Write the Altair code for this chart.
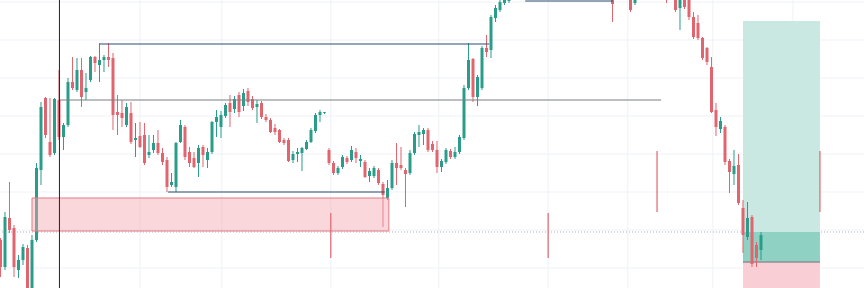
import altair as alt
import pandas as pd

# ---- candle data (price units; index = bar number) ----
idx = list(range(0, 114)) + [136, 140, 141, 148, 150, 151, 152, 153, 154, 155, 156, 157,
                             158, 159, 160, 161, 162, 163, 164, 165, 166, 167, 168, 169]
opens = [48, 21, 70, 60, 18, 28, 40, -5, 48, 118, 190, 146, 135, 188, 151, 163, 206, 198, 218, 196,
         208, 231, 223, 228, 231, 230, 176, 175, 163, 175, 148, 152, 153, 133, 138, 145, 135, 128, 103, 101,
         146, 161, 136, 130, 125, 141, 128, 136, 166, 161, 172, 185, 179, 193, 182, 197, 189, 181, 185, 171,
         168, 160, 158, 148, 148, 128, 134, 135, 139, 146, 157, 173, 175, 138, 125, 115, 121, 130, 128, 136,
         127, 126, 112, 112, 118, 104, 90, 100, 125, 123, 118, 115, 135, 153, 154, 158, 144, 138, 121, 126,
         137, 131, 136, 150, 200, 229, 191, 200, 240, 238, 270, 278, 285, 287,
         292, 290, 285, 295, 292, 280, 290, 292, 271, 265, 250, 240,
         221, 178, 159, 161, 127, 114, 123, 80, 51, 71, 43, 38]
highs = [50, 76, 106, 63, 33, 44, 43, 53, 125, 186, 191, 190, 190, 218, 165, 210, 231, 230, 230, 215,
         232, 232, 245, 233, 245, 235, 193, 188, 185, 186, 165, 166, 165, 153, 153, 158, 140, 131, 115, 146,
         168, 163, 141, 136, 143, 143, 140, 167, 178, 177, 185, 193, 192, 196, 199, 200, 192, 188, 187, 174,
         170, 164, 159, 150, 150, 137, 140, 141, 148, 160, 175, 178, 176, 140, 127, 122, 133, 132, 142, 140,
         133, 128, 120, 122, 120, 106, 108, 128, 145, 141, 120, 138, 156, 163, 160, 160, 147, 147, 129, 140,
         139, 141, 153, 203, 245, 230, 213, 242, 253, 273, 283, 290, 293, 298,
         295, 293, 294, 297, 294, 294, 292, 294, 276, 273, 251, 241,
         231, 185, 171, 163, 129, 138, 134, 88, 86, 73, 46, 56]
lows = [11, 18, 55, 11, 10, 23, -12, -12, 46, 103, 150, 131, 133, 148, 138, 161, 198, 196, 181, 188,
        206, 216, 206, 216, 221, 158, 153, 161, 161, 144, 131, 140, 123, 130, 135, 133, 123, 96, 101, 96,
        145, 128, 121, 120, 111, 121, 120, 134, 151, 150, 170, 161, 175, 171, 177, 182, 178, 165, 169, 166,
        155, 153, 145, 143, 126, 125, 126, 117, 138, 145, 155, 166, 174, 123, 113, 113, 119, 124, 126, 125,
        121, 110, 106, 110, 103, 61, 88, 98, 103, 118, 81, 113, 133, 141, 143, 136, 136, 115, 116, 124,
        129, 129, 134, 148, 198, 186, 182, 198, 231, 230, 266, 276, 283, 285,
        266, 276, 283, 285, 276, 258, 279, 268, 249, 248, 228, 223,
        175, 152, 155, 123, 95, 103, 83, 35, 48, 21, 21, 28]
closes = [21, 71, 58, 21, 28, 41, -5, 48, 120, 181, 153, 133, 189, 151, 163, 206, 200, 218, 191, 200,
          231, 225, 228, 231, 228, 173, 173, 170, 181, 146, 150, 141, 125, 136, 145, 135, 126, 101, 106, 145,
          163, 131, 125, 121, 140, 133, 136, 166, 171, 173, 183, 176, 189, 176, 195, 186, 180, 184, 171, 168,
          156, 156, 146, 145, 127, 134, 136, 140, 146, 158, 173, 176, 175.8, 125, 115, 120, 131, 126, 138, 130,
          129, 111, 117, 120, 105, 93, 100, 125, 120, 120, 114, 135, 154, 156, 158, 138, 138, 121, 127, 138,
          131, 136, 151, 200, 228, 191, 211, 240, 236, 271, 280, 286, 290, 295,
          284, 278, 292, 289, 278, 292, 281, 271, 251, 250, 230, 226,
          176, 161, 167, 126, 116, 122, 85, 53, 70, 24, 30, 53]

# ---- drawings ----
grid_prices = [20, 58, 96, 134, 172, 210, 248, 286]
grid_bars = [31.0, 49.2, 73.4, 97.4, 121.7, 139.4, 158.3, 176.1]

zone_x = [7.0, 86.3]
zone_p = [57, 90]

line_price = [244, 96, 287, 188]
line_from = [22.1, 37.2, 116.6, 13.1]
line_to = [108.6, 85.4, 136.1, 146.8]
line_kind = ["blue", "blue", "blue", "gray"]

spike_bar = [73.4, 121.7, 145.9, 182.1]
spike_lo = [30, 30, 76, 76]
spike_hi = [75, 75, 137, 137]

pos_x = [165.0, 182.1]
pos_target = [56, 267]
pos_profit = [26, 56]
pos_stop = [-20, 26]
entry_price = 26
dotted_price = 56
crosshair_bar = 13.1

GREEN = "#2a9d8a"
RED = "#e0656f"

df = pd.DataFrame(dict(i=idx, o=opens, h=highs, l=lows, c=closes))
df["dir"] = ["up" if c >= o else "down" for o, c in zip(opens, closes)]

xs = alt.Scale(domain=[-0.111, 191.889], nice=False, zero=False, padding=0)
ys = alt.Scale(domain=[0, 288], nice=False, zero=False, padding=0)
col = alt.Color("dir:N", scale=alt.Scale(domain=["up", "down"], range=[GREEN, RED]), legend=None)

hgrid = alt.Chart(pd.DataFrame({"p": grid_prices})).mark_rule(color="#eef1f6", strokeWidth=1).encode(
    y=alt.Y("p:Q", scale=ys, axis=None))
vgrid = alt.Chart(pd.DataFrame({"b": grid_bars})).mark_rule(color="#eef1f6", strokeWidth=1).encode(
    x=alt.X("b:Q", scale=xs, axis=None))

dotted = alt.Chart(pd.DataFrame({"p": [dotted_price]})).mark_rule(
    color="#a9b0b8", strokeWidth=1, strokeDash=[1, 2]).encode(y=alt.Y("p:Q", scale=ys, axis=None))

zone = alt.Chart(pd.DataFrame({"x1": [zone_x[0]], "x2": [zone_x[1]], "y1": [zone_p[0]], "y2": [zone_p[1]]})).mark_rect(
    fill="#f4a7b0", fillOpacity=0.45, stroke="#e07b86", strokeWidth=1, clip=True).encode(
    x=alt.X("x1:Q", scale=xs, axis=None), x2="x2:Q", y=alt.Y("y1:Q", scale=ys, axis=None), y2="y2:Q")

pos_df = pd.DataFrame({
    "x1": [pos_x[0]] * 3, "x2": [pos_x[1]] * 3,
    "y1": [pos_target[0], pos_profit[0], pos_stop[0]],
    "y2": [pos_target[1], pos_profit[1], pos_stop[1]],
    "part": ["target", "profit", "stop"]})
pos = alt.Chart(pos_df).mark_rect(clip=True).encode(
    x=alt.X("x1:Q", scale=xs, axis=None), x2="x2:Q",
    y=alt.Y("y1:Q", scale=ys, axis=None), y2="y2:Q",
    color=alt.Color("part:N", scale=alt.Scale(domain=["target", "profit", "stop"],
                                             range=["#c9e8e1", "#8fd1c3", "#f9cfd5"]), legend=None))
entry = alt.Chart(pd.DataFrame({"x1": [pos_x[0]], "x2": [pos_x[1]], "p": [entry_price]})).mark_rule(
    color="#8a8f96", strokeWidth=1.5).encode(
    x=alt.X("x1:Q", scale=xs, axis=None), x2="x2:Q", y=alt.Y("p:Q", scale=ys, axis=None))

lines = alt.Chart(pd.DataFrame({"p": line_price, "a": line_from, "b": line_to, "k": line_kind})).mark_rule(
    strokeWidth=1.2, clip=True).encode(
    x=alt.X("a:Q", scale=xs, axis=None), x2="b:Q", y=alt.Y("p:Q", scale=ys, axis=None),
    color=alt.Color("k:N", scale=alt.Scale(domain=["blue", "gray"], range=["#2d4b6e", "#7b7f86"]), legend=None))

spikes = alt.Chart(pd.DataFrame({"b": spike_bar, "lo": spike_lo, "hi": spike_hi})).mark_rule(
    color=RED, strokeWidth=1.2).encode(
    x=alt.X("b:Q", scale=xs, axis=None), y=alt.Y("lo:Q", scale=ys, axis=None), y2="hi:Q")

wicks = alt.Chart(df).mark_rule(strokeWidth=1, clip=True).encode(
    x=alt.X("i:Q", scale=xs, axis=None), y=alt.Y("l:Q", scale=ys, axis=None), y2="h:Q", color=col)
bodies = alt.Chart(df).mark_bar(size=3, clip=True).encode(
    x=alt.X("i:Q", scale=xs, axis=None), y=alt.Y("o:Q", scale=ys, axis=None), y2="c:Q", color=col)

cross = alt.Chart(pd.DataFrame({"b": [crosshair_bar]})).mark_rule(color="#222222", strokeWidth=1).encode(
    x=alt.X("b:Q", scale=xs, axis=None))

chart = alt.layer(hgrid, vgrid, dotted, pos, entry, wicks, bodies, zone, lines, spikes, cross).resolve_scale(
    color="independent").properties(
    width=864, height=288, padding=0, autosize=alt.AutoSizeParams(type="none"), background="white"
).configure_view(stroke=None)

chart.save("out.html", embed_options={"renderer": "svg", "actions": False})
